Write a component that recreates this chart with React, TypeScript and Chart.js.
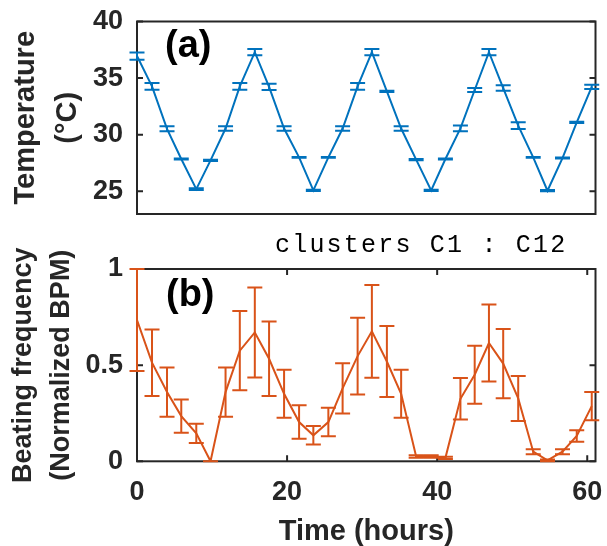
import { useEffect, useRef } from 'react';
import { Chart, registerables } from 'chart.js';

Chart.register(...registerables);

// ---- data ----
const hours = [0, 2.0, 4.0, 5.9, 7.9, 9.8, 11.8, 13.7, 15.7, 17.6, 19.6, 21.6, 23.5, 25.5, 27.4, 29.4, 31.3, 33.3, 35.2, 37.2, 39.2, 41.1, 43.1, 45.0, 46.9, 48.8, 50.8, 52.8, 54.7, 56.7, 58.6, 60.6];

const temperature = [36.95, 34.27, 30.52, 27.86, 25.2, 27.74, 30.55, 34.27, 37.29, 34.23, 30.55, 28.0, 25.09, 28.0, 30.55, 34.27, 37.29, 33.83, 30.55, 27.8, 25.09, 27.86, 30.56, 33.95, 37.29, 34.12, 30.8, 28.0, 25.06, 27.94, 31.09, 34.23];
const temperatureError = [0.32, 0.3, 0.22, 0.05, 0.08, 0.05, 0.2, 0.3, 0.28, 0.27, 0.2, 0.04, 0.05, 0.04, 0.2, 0.3, 0.28, 0.05, 0.2, 0.05, 0.05, 0.05, 0.26, 0.18, 0.28, 0.24, 0.3, 0.04, 0.05, 0.04, 0.06, 0.18];

const beating = [0.735, 0.513, 0.36, 0.235, 0.145, 0.0, 0.36, 0.575, 0.67, 0.533, 0.351, 0.204, 0.135, 0.204, 0.379, 0.547, 0.676, 0.519, 0.351, 0.025, 0.025, 0.018, 0.325, 0.45, 0.615, 0.508, 0.327, 0.05, 0.005, 0.05, 0.132, 0.287];
const beatingError = [0.265, 0.173, 0.128, 0.086, 0.05, 0.0, 0.128, 0.206, 0.234, 0.194, 0.125, 0.087, 0.048, 0.074, 0.131, 0.199, 0.241, 0.184, 0.125, 0.006, 0.006, 0.006, 0.108, 0.151, 0.2, 0.18, 0.117, 0.013, 0.005, 0.013, 0.03, 0.074];

const tempTicks = [25, 30, 35, 40];
const beatTicks = [0, 0.5, 1];
const timeTicks = [0, 20, 40, 60];

const BLUE = '#0072BD';
const ORANGE = '#D95319';
const AXIS = '#262626';
const SANS = "'Liberation Sans', Arial, sans-serif";

// ---- plugins ----
const framePlugin = {
  id: 'frame',
  beforeDatasetsDraw(chart: any, _args: any, opts: any) {
    const { ctx, chartArea: a, scales } = chart;
    ctx.save();
    ctx.strokeStyle = AXIS;
    ctx.lineWidth = 2;
    ctx.strokeRect(a.left, a.top, a.right - a.left, a.bottom - a.top);
    const tl = 6;
    ctx.beginPath();
    (opts.yTicks || []).forEach((v: number) => {
      const py = scales.y.getPixelForValue(v);
      ctx.moveTo(a.left, py);
      ctx.lineTo(a.left + tl, py);
      ctx.moveTo(a.right, py);
      ctx.lineTo(a.right - tl, py);
    });
    (opts.xTicks || []).forEach((v: number) => {
      const px = scales.x.getPixelForValue(v);
      ctx.moveTo(px, a.bottom);
      ctx.lineTo(px, a.bottom - tl);
      ctx.moveTo(px, a.top);
      ctx.lineTo(px, a.top + tl);
    });
    ctx.stroke();
    ctx.restore();
  },
};

const errorBarPlugin = {
  id: 'errorBars',
  afterDatasetsDraw(chart: any, _args: any, opts: any) {
    const { ctx, scales } = chart;
    const xs: number[] = opts.xs;
    const vals: number[] = opts.values;
    const errs: number[] = opts.errors;
    const cap = 7.5;
    ctx.save();
    ctx.strokeStyle = opts.color;
    ctx.lineWidth = 2;
    ctx.beginPath();
    xs.forEach((xv, i) => {
      const px = scales.x.getPixelForValue(xv);
      const top = scales.y.getPixelForValue(vals[i] + errs[i]);
      const bot = scales.y.getPixelForValue(vals[i] - errs[i]);
      ctx.moveTo(px, top);
      ctx.lineTo(px, bot);
      ctx.moveTo(px - cap, top);
      ctx.lineTo(px + cap, top);
      ctx.moveTo(px - cap, bot);
      ctx.lineTo(px + cap, bot);
    });
    ctx.stroke();
    ctx.restore();
  },
};

const labelPlugin = {
  id: 'labels',
  afterDraw(chart: any, _args: any, opts: any) {
    const { ctx, chartArea: a } = chart;
    ctx.save();
    (opts.items || []).forEach((it: any) => {
      ctx.font = it.font;
      ctx.fillStyle = it.color;
      ctx.textAlign = 'left';
      ctx.textBaseline = it.baseline;
      if ('letterSpacing' in ctx) (ctx as any).letterSpacing = it.spacing || '0px';
      ctx.fillText(it.text, a.left + it.dx, a.top + it.dy);
    });
    ctx.restore();
  },
};

const fixY = (s: any) => {
  s.width = 137;
  s.paddingTop = 0;
  s.paddingBottom = 0;
};

export default function App() {
  const topRef = useRef<HTMLCanvasElement>(null);
  const botRef = useRef<HTMLCanvasElement>(null);

  useEffect(() => {
    const tickFont = { family: SANS, size: 27, weight: 'bold' as const };
    const fmt = (v: any) => String(v);

    const top = new Chart(topRef.current!, {
      type: 'line',
      data: {
        datasets: [
          {
            data: hours.map((h, i) => ({ x: h, y: temperature[i] })),
            borderColor: BLUE,
            borderWidth: 2,
            pointRadius: 0,
            fill: false,
            tension: 0,
          },
        ],
      },
      options: {
        responsive: false,
        animation: false,
        devicePixelRatio: 1,
        layout: { padding: { left: 0, top: 21.5, right: 11.5, bottom: 16 } },
        plugins: {
          legend: { display: false },
          tooltip: { enabled: false },
          frame: { yTicks: tempTicks, xTicks: [] },
          errorBars: { xs: hours, values: temperature, errors: temperatureError, color: BLUE },
          labels: {
            items: [
              { text: '(a)', font: `bold 38px ${SANS}`, color: '#000', baseline: 'middle', dx: 28, dy: 25.5 },
            ],
          },
        } as any,
        scales: {
          x: { type: 'linear', min: 0, max: 61.1, display: false },
          y: {
            type: 'linear',
            min: 23,
            max: 40,
            afterFit: fixY,
            afterBuildTicks: (s: any) => { s.ticks = tempTicks.map((v) => ({ value: v })); },
            ticks: { font: tickFont, color: AXIS, padding: 14, callback: fmt },
            grid: { display: false, drawTicks: false },
            border: { display: false },
            title: {
              display: true,
              text: ['Temperature', '(°C)'],
              color: AXIS,
              font: { family: SANS, size: 29, weight: 'bold', lineHeight: 1.45 },
              padding: { top: 5, bottom: 0 },
            },
          },
        },
      },
      plugins: [framePlugin, errorBarPlugin, labelPlugin],
    });

    const bot = new Chart(botRef.current!, {
      type: 'line',
      data: {
        datasets: [
          {
            data: hours.map((h, i) => ({ x: h, y: beating[i] })),
            borderColor: ORANGE,
            borderWidth: 2,
            pointRadius: 0,
            fill: false,
            tension: 0,
          },
        ],
      },
      options: {
        responsive: false,
        animation: false,
        devicePixelRatio: 1,
        layout: { padding: { left: 0, top: 39, right: 11.5, bottom: 0 } },
        plugins: {
          legend: { display: false },
          tooltip: { enabled: false },
          frame: { yTicks: beatTicks, xTicks: timeTicks },
          errorBars: { xs: hours, values: beating, errors: beatingError, color: ORANGE },
          labels: {
            items: [
              { text: '(b)', font: `bold 38px ${SANS}`, color: '#000', baseline: 'middle', dx: 29, dy: 27 },
              { text: 'clusters C1 : C12', font: `25px 'Courier New', 'Liberation Mono', monospace`, color: '#000', baseline: 'alphabetic', dx: 138, dy: -17.3, spacing: '2.2px' },
            ],
          },
        } as any,
        scales: {
          x: {
            type: 'linear',
            min: 0,
            max: 61.1,
            afterFit: (s: any) => { s.height = 84.7; s.paddingLeft = 0; s.paddingRight = 0; },
            afterBuildTicks: (s: any) => { s.ticks = timeTicks.map((v) => ({ value: v })); },
            ticks: { font: tickFont, color: AXIS, padding: 15.5, maxRotation: 0, callback: fmt },
            grid: { display: false, drawTicks: false },
            border: { display: false },
            title: {
              display: true,
              text: 'Time (hours)',
              color: AXIS,
              font: { family: SANS, size: 29, weight: 'bold', lineHeight: 1 },
              padding: 0,
            },
          },
          y: {
            type: 'linear',
            min: 0,
            max: 1,
            afterFit: fixY,
            afterBuildTicks: (s: any) => { s.ticks = beatTicks.map((v) => ({ value: v })); },
            ticks: { font: tickFont, color: AXIS, padding: 14, callback: fmt },
            grid: { display: false, drawTicks: false },
            border: { display: false },
            title: {
              display: true,
              text: ['Beating frequency', '(Normalized BPM)'],
              color: AXIS,
              font: { family: SANS, size: 27, weight: 'bold', lineHeight: 1.42 },
              padding: { top: 4.5, bottom: 0 },
            },
          },
        },
      },
      plugins: [framePlugin, errorBarPlugin, labelPlugin],
    });

    return () => {
      top.destroy();
      bot.destroy();
    };
  }, []);

  return (
    <div style={{ position: 'absolute', left: 0, top: 0, width: 607, height: 546, background: '#fff', overflow: 'hidden' }}>
      <canvas ref={topRef} width={607} height={230} style={{ position: 'absolute', left: 0, top: 0 }} />
      <canvas ref={botRef} width={607} height={316} style={{ position: 'absolute', left: 0, top: 230 }} />
    </div>
  );
}
